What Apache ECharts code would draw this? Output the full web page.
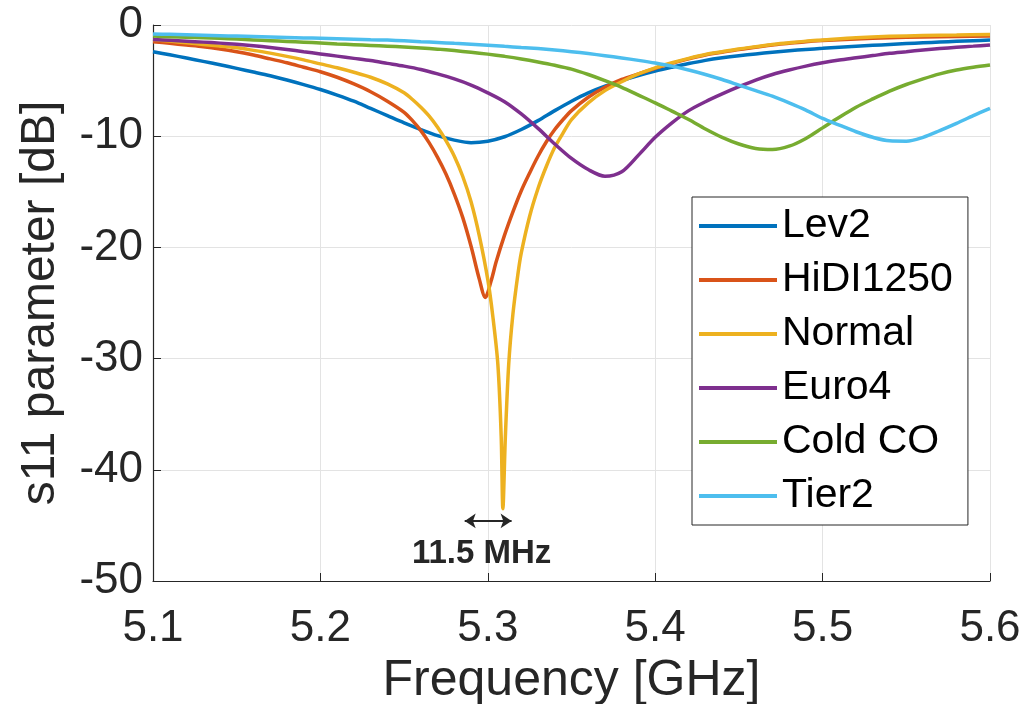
<!DOCTYPE html>
<html>
<head>
<meta charset="utf-8">
<script src="https://cdn.jsdelivr.net/npm/echarts@6/dist/echarts.min.js"></script>
<style>
html,body{margin:0;padding:0;background:#fff;}
#chart{width:1027px;height:704px;}
</style>
</head>
<body>
<div id="chart"></div>
<script>
// ---- Data ----
const seriesNames = ['Lev2', 'HiDI1250', 'Normal', 'Euro4', 'Cold CO', 'Tier2'];
const seriesColors = ['#0072BD', '#D95319', '#EDB120', '#7E2F8E', '#77AC30', '#4DBEEE'];

// common frequency grid (GHz) for the broad resonances
const freqGrid = [5.10, 5.11, 5.12, 5.13, 5.14, 5.15, 5.16, 5.17, 5.18, 5.19,
                  5.20, 5.21, 5.22, 5.23, 5.24, 5.25, 5.26, 5.27, 5.28, 5.29,
                  5.30, 5.31, 5.32, 5.33, 5.34, 5.35, 5.36, 5.37, 5.38, 5.39,
                  5.40, 5.41, 5.42, 5.43, 5.44, 5.45, 5.46, 5.47, 5.48, 5.49,
                  5.50, 5.51, 5.52, 5.53, 5.54, 5.55, 5.56, 5.57, 5.58, 5.59, 5.60];

const lev2Y = [-2.4, -2.68, -2.97, -3.27, -3.58, -3.9, -4.23, -4.57, -4.95, -5.36,
               -5.8, -6.3, -6.85, -7.5, -8.15, -8.8, -9.4, -9.95, -10.35, -10.58,
               -10.45, -10.05, -9.4, -8.6, -7.7, -6.85, -6.1, -5.5, -5.0, -4.55,
               -4.15, -3.8, -3.47, -3.18, -2.95, -2.76, -2.6, -2.45, -2.31, -2.2,
               -2.1, -2.0, -1.91, -1.83, -1.75, -1.67, -1.6, -1.53, -1.47, -1.41, -1.35];

const euro4Y = [-1.3, -1.38, -1.46, -1.54, -1.63, -1.74, -1.87, -2.02, -2.2, -2.4,
                -2.6, -2.8, -3.0, -3.2, -3.45, -3.7, -4.0, -4.4, -4.85, -5.4,
                -6.1, -6.9, -8.0, -9.3, -10.7, -12.0, -13.0, -13.6, -13.2, -11.7,
                -10.1, -8.8, -7.7, -6.9, -6.2, -5.55, -4.95, -4.45, -4.05, -3.7,
                -3.4, -3.15, -2.95, -2.75, -2.55, -2.4, -2.25, -2.12, -2.0, -1.9, -1.8];

const coldY = [-1.0, -1.05, -1.1, -1.15, -1.2, -1.27, -1.34, -1.41, -1.48, -1.55,
               -1.62, -1.7, -1.77, -1.84, -1.91, -1.98, -2.07, -2.17, -2.3, -2.45,
               -2.62, -2.82, -3.05, -3.32, -3.62, -3.97, -4.45, -5.0, -5.6, -6.3,
               -7.0, -7.75, -8.5, -9.35, -10.1, -10.7, -11.1, -11.2, -10.9, -10.2,
               -9.25, -8.3, -7.4, -6.65, -5.95, -5.35, -4.85, -4.4, -4.05, -3.8, -3.6];

const tier2Y = [-0.8, -0.84, -0.88, -0.92, -0.96, -1.0, -1.04, -1.08, -1.12, -1.16,
                -1.2, -1.24, -1.28, -1.32, -1.36, -1.42, -1.5, -1.57, -1.65, -1.73,
                -1.82, -1.92, -2.02, -2.12, -2.25, -2.4, -2.57, -2.76, -2.96, -3.18,
                -3.42, -3.7, -4.05, -4.45, -4.9, -5.4, -5.9, -6.4, -7.0, -7.65,
                -8.4, -9.0, -9.6, -10.1, -10.42, -10.45, -10.1, -9.5, -8.85, -8.15, -7.5];

// finer sampling around the sharp dips
const hidiX = [5.10, 5.11, 5.12, 5.13, 5.14, 5.15, 5.16, 5.17, 5.18, 5.19,
               5.20, 5.21, 5.22, 5.23, 5.24, 5.25, 5.255, 5.26, 5.265, 5.27,
               5.275, 5.28, 5.285, 5.29, 5.295, 5.2985, 5.302, 5.305, 5.31, 5.315,
               5.32, 5.325, 5.33, 5.335, 5.34, 5.345, 5.35, 5.36, 5.37, 5.38,
               5.39, 5.40, 5.41, 5.42, 5.43, 5.44, 5.45, 5.46, 5.47, 5.48,
               5.49, 5.50, 5.52, 5.54, 5.56, 5.58, 5.60];
const hidiY = [-1.5, -1.65, -1.8, -1.95, -2.15, -2.4, -2.7, -3.05, -3.4, -3.8,
               -4.2, -4.7, -5.3, -6.0, -6.85, -7.85, -8.6, -9.5, -10.6, -11.9,
               -13.4, -15.2, -17.3, -19.9, -22.9, -24.5, -23.0, -21.3, -18.9, -16.8,
               -14.9, -13.3, -11.8, -10.5, -9.4, -8.5, -7.7, -6.5, -5.6, -4.9,
               -4.4, -3.9, -3.45, -3.05, -2.7, -2.45, -2.2, -2.0, -1.8, -1.65,
               -1.5, -1.4, -1.25, -1.15, -1.08, -1.03, -1.0];

const normalX = [5.10, 5.11, 5.12, 5.13, 5.14, 5.15, 5.16, 5.17, 5.18, 5.19,
                 5.20, 5.21, 5.22, 5.23, 5.24, 5.25, 5.255, 5.26, 5.265, 5.27,
                 5.275, 5.28, 5.285, 5.29, 5.295, 5.30, 5.303, 5.306, 5.308, 5.309,
                 5.3105, 5.3125, 5.315, 5.318, 5.32, 5.325, 5.33, 5.335, 5.34, 5.345,
                 5.35, 5.36, 5.37, 5.38, 5.39, 5.40, 5.41, 5.42, 5.43, 5.44,
                 5.45, 5.46, 5.47, 5.48, 5.49, 5.50, 5.52, 5.54, 5.56, 5.58, 5.60];
const normalY = [-1.3, -1.45, -1.6, -1.75, -1.9, -2.05, -2.28, -2.53, -2.82, -3.14,
                 -3.5, -3.85, -4.25, -4.7, -5.3, -6.1, -6.7, -7.4, -8.2, -9.2,
                 -10.4, -11.8, -13.6, -15.9, -19.0, -22.9, -26.2, -30.5, -37.0, -43.5,
                 -37.0, -30.5, -26.0, -22.4, -20.5, -17.2, -14.7, -12.7, -11.0, -9.7,
                 -8.5, -7.0, -5.9, -5.1, -4.4, -3.85, -3.4, -3.0, -2.65, -2.4,
                 -2.15, -1.95, -1.75, -1.6, -1.45, -1.35, -1.15, -1.02, -0.95, -0.9, -0.85];

const xTicks = [5.1, 5.2, 5.3, 5.4, 5.5, 5.6];
const yTicks = [-50, -40, -30, -20, -10, 0];

// annotation (double arrow + label)
const arrowX = [5.2862, 5.3142];
const arrowY = -44.6;
const annotText = '11.5 MHz';
const annotPos = [5.2963, -47.6];

// ---- Build ----
const xs = [freqGrid, hidiX, normalX, freqGrid, freqGrid, freqGrid];
const ys = [lev2Y, hidiY, normalY, euro4Y, coldY, tier2Y];
const zip = (a, b) => a.map((v, i) => [v, b[i]]);

const FONT = "'Liberation Sans', Arial, Helvetica, sans-serif";
const DARK = '#262626';

const series = seriesNames.map((name, i) => ({
  name: name,
  type: 'line',
  data: zip(xs[i], ys[i]),
  showSymbol: false,
  symbol: 'none',
  smooth: 0.3,
  lineStyle: { width: 3.5, color: seriesColors[i] },
  itemStyle: { color: seriesColors[i] },
  emphasis: { disabled: true },
  animation: false
}));

series[series.length - 1].markLine = {
  silent: true,
  animation: false,
  symbol: ['arrow', 'arrow'],
  symbolSize: [11, 11],
  label: { show: false },
  lineStyle: { color: DARK, width: 2, type: 'solid' },
  data: [[
    { coord: [arrowX[0], arrowY] },
    { coord: [arrowX[1], arrowY] }
  ]]
};
series[series.length - 1].markPoint = {
  silent: true,
  animation: false,
  symbol: 'circle',
  symbolSize: 1,
  itemStyle: { color: 'rgba(0,0,0,0)' },
  label: {
    show: true,
    position: 'inside',
    formatter: annotText,
    color: DARK,
    fontFamily: FONT,
    fontWeight: 'bold',
    fontSize: 33
  },
  data: [{ coord: annotPos }]
};

const chart = echarts.init(document.getElementById('chart'), null, { renderer: 'canvas' });
chart.setOption({
  backgroundColor: '#ffffff',
  animation: false,
  grid: { left: 153, right: 37, top: 25, bottom: 123, containLabel: false, outerBoundsMode: 'none' },
  xAxis: {
    type: 'value',
    min: xTicks[0],
    max: xTicks[xTicks.length - 1],
    interval: 0.1,
    name: 'Frequency [GHz]',
    nameLocation: 'middle',
    nameGap: 55,
    nameTextStyle: { fontFamily: FONT, fontSize: 50, color: DARK },
    axisLine: { show: true, onZero: false, lineStyle: { color: DARK, width: 1.2 } },
    axisTick: { show: true, inside: true, length: 8, lineStyle: { color: DARK } },
    axisLabel: { margin: 26, fontFamily: FONT, fontSize: 44, color: DARK, formatter: v => v.toFixed(1) },
    splitLine: { show: true, lineStyle: { color: '#e3e3e3', width: 1 } }
  },
  yAxis: {
    type: 'value',
    min: yTicks[0],
    max: yTicks[yTicks.length - 1],
    interval: 10,
    name: 's11 parameter [dB]',
    nameLocation: 'middle',
    nameGap: 88,
    nameTextStyle: { fontFamily: FONT, fontSize: 48, color: DARK },
    axisLine: { show: true, onZero: false, lineStyle: { color: DARK, width: 1.2 } },
    axisTick: { show: true, inside: true, length: 8, lineStyle: { color: DARK } },
    axisLabel: { margin: 10, fontFamily: FONT, fontSize: 44, color: DARK },
    splitLine: { show: true, lineStyle: { color: '#e3e3e3', width: 1 } }
  },
  legend: {
    orient: 'vertical',
    left: 692,
    top: 197,
    padding: [8, 15, 8, 7],
    itemGap: 12,
    itemWidth: 78,
    itemHeight: 4,
    icon: 'rect',
    borderColor: DARK,
    borderWidth: 1,
    backgroundColor: '#ffffff',
    borderRadius: 0,
    selectedMode: false,
    textStyle: { fontFamily: FONT, fontSize: 41, color: '#000000', lineHeight: 42 },
    data: seriesNames
  },
  series: series
});
</script>
</body>
</html>
